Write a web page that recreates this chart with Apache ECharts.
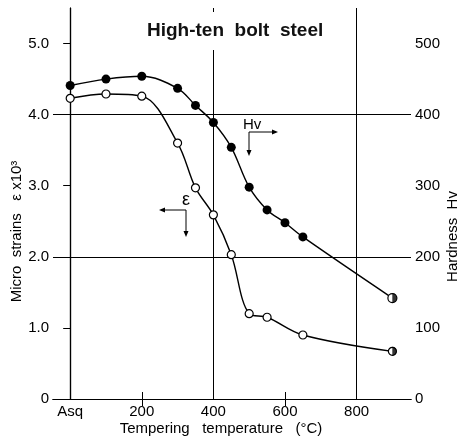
<!DOCTYPE html>
<html>
<head>
<meta charset="utf-8">
<script src="https://cdn.jsdelivr.net/npm/echarts@6/dist/echarts.min.js"></script>
<style>
  html, body { margin: 0; padding: 0; background: #fff; }
  #chart { width: 457px; height: 442px; }
</style>
</head>
<body>
<div id="chart"></div>
<script>
// temperatures (0 = as quenched)
var tempHv = [0, 100, 200, 300, 350, 400, 450, 500, 550, 600, 650, 900];
var hardness = [441, 450, 454, 437, 413, 389, 354, 298, 266, 248, 228, 142];
var tempStrain = [0, 100, 200, 300, 350, 400, 450, 500, 550, 650, 900];
var strain = [4.23, 4.29, 4.26, 3.60, 2.97, 2.59, 2.03, 1.20, 1.15, 0.90, 0.67];

var xLabels = [0, 200, 400, 600, 800];
var strainTicks = [0, 1, 2, 3, 4, 5];
var hvTicks = [0, 100, 200, 300, 400, 500];

var font = 'Liberation Sans';

function zip(xs, ys) {
	return xs.map(function (x, i) { return [x, ys[i]]; });
}

// last point of each curve is drawn half filled
function lastOpen(arr) {
	var last = arr.length - 1;
	return arr.map(function (p, i) {
		if (i == last) {
			return { value: p, itemStyle: { color: '#fff', borderColor: '#000', borderWidth: 1.2 } };
		}
		return p;
	});
}

// small arrow for the Hv / epsilon hints
function arrow(x1, y1, x2, y2) {
	var a = Math.atan2(y2 - y1, x2 - x1), h = 6, w = 2.5;
	var bx = x2 - h * Math.cos(a), by = y2 - h * Math.sin(a);
	return [{
		type: 'line', silent: true,
		shape: { x1: x1, y1: y1, x2: bx, y2: by },
		style: { stroke: '#000', lineWidth: 1 }
	}, {
		type: 'polygon', silent: true,
		shape: { points: [[x2, y2], [bx - w * Math.sin(a), by + w * Math.cos(a)], [bx + w * Math.sin(a), by - w * Math.cos(a)]] },
		style: { fill: '#000' }
	}];
}

var chart = echarts.init(document.getElementById('chart'));

var hvData = zip(tempHv, hardness);
var strainData = zip(tempStrain, strain);
var halfDisc = 'path://M0,0 A10,10 0 0,1 0,20 Z';

var option = {
	animation: false,
	textStyle: { fontFamily: font, color: '#000' },
	title: {
		text: 'High-ten  bolt  steel',
		left: 143,
		top: 12,
		padding: [9, 4, 10, 4],
		backgroundColor: '#fff',
		textStyle: { fontFamily: font, fontSize: 19, fontWeight: 'bold', color: '#111' }
	},
	grid: { left: 53, right: 46, top: 8, bottom: 43, containLabel: false, outerBoundsMode: 'none' },
	xAxis: [{
		type: 'value', min: -48, max: 952,
		name: 'Tempering   temperature   (°C)',
		nameLocation: 'middle', nameGap: 22, nameMoveOverlap: false,
		nameTextStyle: { fontSize: 15, padding: [0, 22, 0, 0] },
		axisLine: { show: true, lineStyle: { color: '#000', width: 1.2 } },
		axisTick: { show: true, inside: true, length: 7, customValues: [200, 600], lineStyle: { color: '#000' } },
		axisLabel: {
			customValues: xLabels, fontSize: 15, margin: 5, color: '#000',
			formatter: function (v) { return v == 0 ? 'Asq' : v; }
		},
		splitLine: { show: false }
	}, {
		type: 'value', min: -48, max: 952, position: 'top',
		axisLine: { show: true, lineStyle: { color: '#000', width: 1.2 } },
		axisTick: { show: true, inside: true, length: 7, customValues: [200, 600], lineStyle: { color: '#000' } },
		axisLabel: { show: false },
		splitLine: { show: false }
	}],
	yAxis: [{
		type: 'value', min: 0, max: 5.5,
		name: 'Micro  strains   ε x10³',
		nameLocation: 'middle', nameGap: 29, nameMoveOverlap: false,
		nameTextStyle: { fontSize: 15, padding: [0, 56, 0, 0] },
		axisLine: { show: true, lineStyle: { color: '#000', width: 1.2 } },
		axisTick: { show: true, length: 6, customValues: strainTicks, lineStyle: { color: '#000' } },
		axisLabel: {
			customValues: strainTicks, fontSize: 15, margin: 4, color: '#000',
			formatter: function (v) { return v == 0 ? '0' : v.toFixed(1); }
		},
		splitLine: { show: false }
	}, {
		type: 'value', min: 0, max: 550, position: 'right',
		name: 'Hardness  Hv',
		nameLocation: 'middle', nameGap: 34, nameMoveOverlap: false,
		nameTextStyle: { fontSize: 15, padding: [0, 66, 0, 0] },
		axisLine: { show: true, lineStyle: { color: '#000', width: 1.2 } },
		axisTick: { show: true, inside: true, length: 7, customValues: hvTicks, lineStyle: { color: '#000' } },
		axisLabel: { customValues: hvTicks, fontSize: 15, margin: 4, color: '#000' },
		splitLine: { show: false }
	}],
	series: [{
		name: 'strain',
		type: 'line',
		xAxisIndex: 0, yAxisIndex: 0,
		smooth: 0.35,
		symbol: 'circle', symbolSize: 8,
		lineStyle: { color: '#000', width: 1.4 },
		itemStyle: { color: '#fff', borderColor: '#000', borderWidth: 1.2 },
		data: strainData,
		z: 3,
		markLine: {
			silent: true, symbol: 'none', label: { show: false },
			lineStyle: { color: '#000', width: 1, type: 'solid' },
			data: [{ xAxis: 0 }, { xAxis: 400 }, { xAxis: 800 }, { yAxis: 2 }, { yAxis: 4 }],
			z: 1
		}
	}, {
		name: 'Hv',
		type: 'line',
		xAxisIndex: 0, yAxisIndex: 1,
		smooth: 0.35,
		symbol: 'circle', symbolSize: 9,
		lineStyle: { color: '#000', width: 1.4 },
		itemStyle: { color: '#000' },
		data: lastOpen(hvData),
		z: 3
	}, {
		type: 'scatter',
		xAxisIndex: 0, yAxisIndex: 0,
		symbol: halfDisc, symbolSize: [4.5, 9], symbolOffset: [2.2, 0],
		itemStyle: { color: '#000' },
		data: [strainData[strainData.length - 1]],
		z: 5
	}, {
		type: 'scatter',
		xAxisIndex: 0, yAxisIndex: 1,
		symbol: halfDisc, symbolSize: [4.5, 9], symbolOffset: [2.2, 0],
		itemStyle: { color: '#000' },
		data: [hvData[hvData.length - 1]],
		z: 5
	}],
	graphic: [].concat(
		[{ type: 'text', left: 243, top: 117, style: { text: 'Hv', font: '15px Liberation Sans', fill: '#000' } }],
		arrow(249, 132, 278, 132),
		arrow(249, 132, 249, 156),
		[{ type: 'text', left: 182, top: 191, style: { text: 'ε', font: '18px Liberation Sans', fill: '#000' } }],
		arrow(186, 210, 159, 210),
		arrow(186, 210, 186, 237)
	)
};

chart.setOption(option);
</script>
</body>
</html>
